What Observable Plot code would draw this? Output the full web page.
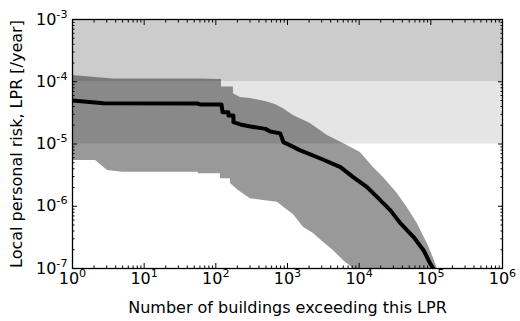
<!DOCTYPE html>
<html>
<head>
<meta charset="utf-8">
<script src="https://cdn.jsdelivr.net/npm/d3@7"></script>
<script src="https://cdn.jsdelivr.net/npm/@observablehq/plot@0.6"></script>
<style>
  html, body { margin: 0; padding: 0; background: white; }
  #chart svg text { font-family: 'DejaVu Sans', sans-serif; font-size: 16px; fill: black; }
</style>
</head>
<body>
<div id="chart"></div>
<script>
// Axis domains and ticks
const xDomain = [1, 1e6];
const yDomain = [1e-7, 1e-3];
const xMajorTicks = [1, 10, 100, 1e3, 1e4, 1e5, 1e6];
const yMajorTicks = [1e-7, 1e-6, 1e-5, 1e-4, 1e-3];
const minorMultipliers = [2, 3, 4, 5, 6, 7, 8, 9];

// Background risk bands
const bandLow = [1e-5, 1e-4];
const bandHigh = [1e-4, 1e-3];
const bandColors = ["#e5e5e5", "#cccccc"];

// Upper bound of uncertainty band
const upperX = [1, 3.7, 55, 120, 120, 176, 176, 220, 304, 492, 678, 877, 1208, 2085, 3600, 6020, 10400, 15800, 21800, 34100, 47000, 64800, 89400, 108000, 123000];
const upperY = [1.26e-4, 1.11e-4, 1.11e-4, 1.09e-4, 8.2e-5, 8.2e-5, 6.4e-5, 5.6e-5, 5.4e-5, 4.8e-5, 4.3e-5, 3.7e-5, 2.87e-5, 2.13e-5, 1.37e-5, 1.02e-5, 7.3e-6, 4.2e-6, 2.9e-6, 1.6e-6, 9.5e-7, 5.3e-7, 2.5e-7, 1.5e-7, 1e-7];

// Median curve
const medianX = [1, 2.7, 55, 61, 120, 124, 150, 150, 176, 176, 220, 304, 492, 574, 793, 877, 1090, 1510, 2880, 5480, 8250, 12900, 17900, 27500, 37800, 57500, 79400, 98000, 108000];
const medianY = [5.0e-5, 4.5e-5, 4.48e-5, 4.3e-5, 4.3e-5, 3.24e-5, 3.24e-5, 2.87e-5, 2.87e-5, 2.24e-5, 2.06e-5, 1.91e-5, 1.75e-5, 1.59e-5, 1.48e-5, 1.07e-5, 9.5e-6, 7.9e-6, 5.85e-6, 4.24e-6, 2.93e-6, 2.02e-6, 1.40e-6, 8.5e-7, 5.3e-7, 3.2e-7, 1.95e-7, 1.2e-7, 1e-7];

// Lower bound of uncertainty band
const lowerX = [1, 2.1, 3.08, 5.0, 57, 57, 116, 116, 160, 160, 207, 304, 461, 723, 877, 1208, 1667, 2300, 3170, 4370, 6020, 8300];
const lowerY = [5.43e-6, 5.43e-6, 3.75e-6, 3.52e-6, 3.52e-6, 3.32e-6, 3.32e-6, 2.76e-6, 2.76e-6, 2.32e-6, 1.79e-6, 1.32e-6, 1.24e-6, 1.16e-6, 9.7e-7, 7.4e-7, 4.6e-7, 3.65e-7, 2.64e-7, 1.94e-7, 1.35e-7, 1e-7];

const xLabel = "Number of buildings exceeding this LPR";
const yLabel = "Local personal risk, LPR [/year]";

// Build tables
const bands = [
  {lo: bandLow[0], hi: bandLow[1], color: bandColors[0]},
  {lo: bandHigh[0], hi: bandHigh[1], color: bandColors[1]}
];
const upper = upperX.map((x, i) => ({x, y: upperY[i]}));
const median = medianX.map((x, i) => ({x, y: medianY[i]}));
const lower = lowerX.map((x, i) => ({x, y: lowerY[i]}));
const minorTicks = (majors) => majors.slice(0, -1).flatMap(m => minorMultipliers.map(k => m * k));
const xMinor = minorTicks(xMajorTicks);
const yMinor = minorTicks(yMajorTicks);
const expFmt = d => "10^" + Math.round(Math.log10(d));
const blank = () => "";

const tickStyle = {stroke: "black", strokeWidth: 1};

const chart = Plot.plot({
  width: 520,
  height: 321,
  marginLeft: 72,
  marginRight: 18,
  marginTop: 19,
  marginBottom: 53,
  style: {fontFamily: "'DejaVu Sans', sans-serif", fontSize: "16px", color: "black", background: "white"},
  x: {type: "log", domain: xDomain},
  y: {type: "log", domain: yDomain},
  marks: [
    Plot.rect(bands, {x1: xDomain[0], x2: xDomain[1], y1: "lo", y2: "hi", fill: "color"}),
    Plot.areaY(upper, {x: "x", y1: "y", y2: yDomain[0], fill: "black", fillOpacity: 0.4, clip: true}),
    Plot.areaY(lower, {x: "x", y1: "y", y2: yDomain[0], fill: "white", clip: true}),
    Plot.line(median, {x: "x", y: "y", stroke: "black", strokeWidth: 4, clip: true}),
    // labels
    Plot.axisX({ticks: xMajorTicks, tickSize: 0, tickPadding: 4, tickFormat: expFmt, fontSize: 16,
      label: xLabel, labelAnchor: "center", labelOffset: 44, labelArrow: "none"}),
    Plot.axisY({ticks: yMajorTicks, tickSize: 0, tickPadding: 5, tickFormat: expFmt, fontSize: 16,
      label: yLabel, labelAnchor: "center", labelOffset: 62, labelArrow: "none"}),
    // inward ticks on all four sides
    Plot.axisX({ticks: xMajorTicks, tickSize: -5, tickFormat: blank, label: null, ...tickStyle}),
    Plot.axisX({ticks: xMinor, tickSize: -2.5, tickFormat: blank, label: null, ...tickStyle}),
    Plot.axisX({anchor: "top", ticks: xMajorTicks, tickSize: -5, tickFormat: blank, label: null, ...tickStyle}),
    Plot.axisX({anchor: "top", ticks: xMinor, tickSize: -2.5, tickFormat: blank, label: null, ...tickStyle}),
    Plot.axisY({ticks: yMajorTicks, tickSize: -5, tickFormat: blank, label: null, ...tickStyle}),
    Plot.axisY({ticks: yMinor, tickSize: -2.5, tickFormat: blank, label: null, ...tickStyle}),
    Plot.axisY({anchor: "right", ticks: yMajorTicks, tickSize: -5, tickFormat: blank, label: null, ...tickStyle}),
    Plot.axisY({anchor: "right", ticks: yMinor, tickSize: -2.5, tickFormat: blank, label: null, ...tickStyle}),
    Plot.frame({stroke: "black", strokeWidth: 1.3})
  ]
});

// Render exponents as superscripts
const NS = "http://www.w3.org/2000/svg";
chart.querySelectorAll("text").forEach(t => {
  const m = t.textContent.match(/^10\^(-?\d+)$/);
  if (m) {
    t.textContent = "10";
    const sup = document.createElementNS(NS, "tspan");
    sup.setAttribute("dy", "-7");
    sup.setAttribute("style", "font-size: 11.2px");
    sup.textContent = m[1];
    t.appendChild(sup);
  }
});

document.getElementById("chart").appendChild(chart);
</script>
</body>
</html>
